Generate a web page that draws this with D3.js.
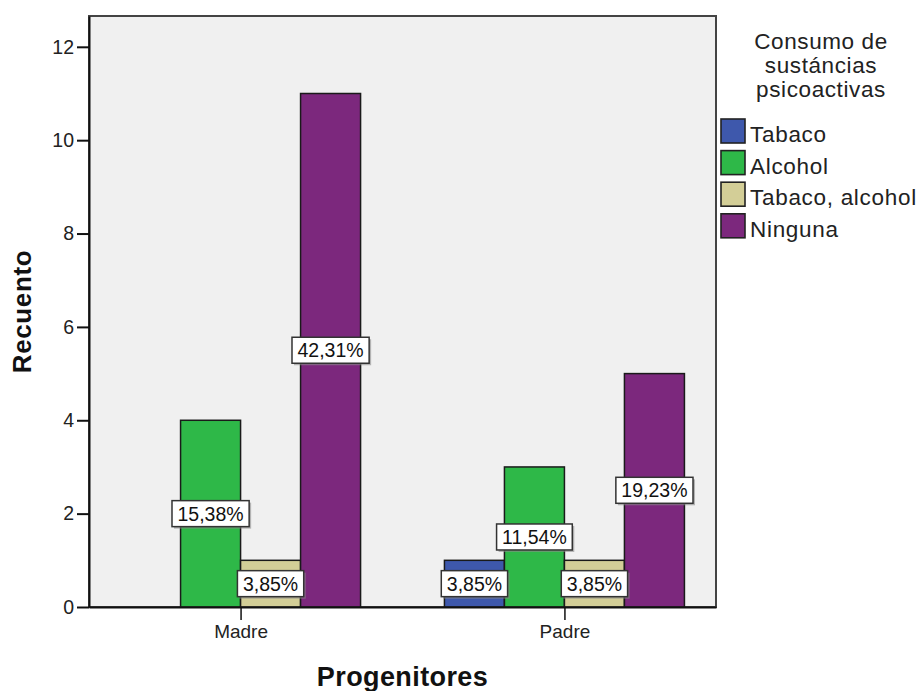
<!DOCTYPE html>
<html>
<head>
<meta charset="utf-8">
<script src="https://cdn.jsdelivr.net/npm/d3@7"></script>
<style>
  html, body { margin: 0; padding: 0; background: #ffffff; }
  svg { display: block; font-family: "Liberation Sans", Arial, sans-serif; }
</style>
</head>
<body>
<svg id="chart" width="922" height="691"></svg>
<script>
// ---- data ----
const categories = ["Madre", "Padre"];
const seriesNames = ["Tabaco", "Alcohol", "Tabaco, alcohol", "Ninguna"];
const madreValues = [0, 4, 1, 11];
const padreValues = [1, 3, 1, 5];
const totalCount = 26;
const yTicks = [0, 2, 4, 6, 8, 10, 12];
const seriesColors = ["#3e58ac", "#2eb848", "#d3ce97", "#7c287d"];
const legendTitle = ["Consumo de", "sustáncias", "psicoactivas"];
const xTitle = "Progenitores";
const yTitle = "Recuento";

const valuesByCategory = { "Madre": madreValues, "Padre": padreValues };

// ---- layout ----
const plot = { left: 89, right: 716, top: 16, bottom: 607 };
const yMax = 12.66;

const svg = d3.select("#chart");

const y = d3.scaleLinear().domain([0, yMax]).range([plot.bottom, plot.top]);
const x0 = d3.scalePoint().domain(categories).range([plot.left, plot.right]).padding(0.468);
const x1 = d3.scaleBand().domain(seriesNames).range([-120, 120]).padding(0);
const color = d3.scaleOrdinal().domain(seriesNames).range(seriesColors);

// plot background
svg.append("rect")
  .attr("x", plot.left).attr("y", plot.top)
  .attr("width", plot.right - plot.left).attr("height", plot.bottom - plot.top)
  .attr("fill", "#f0f0f0")
  .attr("stroke", "#444").attr("stroke-width", 2);

// data rows
const rows = [];
categories.forEach(c => {
  valuesByCategory[c].forEach((v, i) => rows.push({ cat: c, series: seriesNames[i], value: v }));
});
const barRows = rows.filter(d => d.value > 0);

// bars
svg.append("g").selectAll("rect").data(barRows).join("rect")
  .attr("x", d => x0(d.cat) + x1(d.series))
  .attr("y", d => y(d.value))
  .attr("width", x1.bandwidth())
  .attr("height", d => y(0) - y(d.value))
  .attr("fill", d => color(d.series))
  .attr("stroke", "#1a1a1a").attr("stroke-width", 1.5);

// y axis
const yAxis = d3.axisLeft(y).tickValues(yTicks).tickSize(12).tickSizeOuter(0).tickPadding(3).tickFormat(d3.format("d"));
const gy = svg.append("g").attr("transform", `translate(${plot.left},0)`).call(yAxis);
gy.select(".domain").attr("stroke", "#111").attr("stroke-width", 2);
gy.selectAll(".tick line").attr("stroke", "#111").attr("stroke-width", 2);
gy.selectAll(".tick text").attr("font-size", "19.5px").attr("fill", "#222")
  .attr("font-family", "'Liberation Sans', Arial, sans-serif");

// x axis
const xAxis = d3.axisBottom(x0).tickSize(13).tickSizeOuter(0).tickPadding(5);
const gx = svg.append("g").attr("transform", `translate(0,${plot.bottom})`).call(xAxis);
gx.select(".domain").attr("stroke", "#111").attr("stroke-width", 2);
gx.selectAll(".tick line").attr("stroke", "#111").attr("stroke-width", 1.5);
gx.selectAll(".tick text").attr("font-size", "19px").attr("fill", "#222")
  .attr("font-family", "'Liberation Sans', Arial, sans-serif");

// value labels
const fmt = d3.format(".2f");
const labG = svg.append("g");
barRows.forEach(d => {
  const txt = fmt(d.value / totalCount * 100).replace(".", ",") + "%";
  const cx = x0(d.cat) + x1(d.series) + x1.bandwidth() / 2;
  const cy = y(d.value / 2);
  const g = labG.append("g");
  const t = g.append("text").attr("x", cx).attr("y", cy + 7)
    .attr("text-anchor", "middle").attr("font-size", "19.5px").attr("fill", "#111").text(txt);
  const w = t.node().getComputedTextLength() + 11;
  const h = 26;
  g.insert("rect", "text").attr("x", cx - w / 2 + 2).attr("y", cy - h / 2 + 2)
    .attr("width", w).attr("height", h).attr("fill", "#8a8a8a").attr("opacity", 0.6);
  g.insert("rect", "text").attr("x", cx - w / 2).attr("y", cy - h / 2)
    .attr("width", w).attr("height", h).attr("fill", "#ffffff")
    .attr("stroke", "#333").attr("stroke-width", 1.5);
});

// axis titles
svg.append("text")
  .attr("transform", `translate(31,${(plot.top + plot.bottom) / 2}) rotate(-90)`)
  .attr("text-anchor", "middle").attr("font-size", "26px").attr("font-weight", "bold")
  .attr("letter-spacing", "0.6px").attr("fill", "#111").text(yTitle);
svg.append("text")
  .attr("x", (plot.left + plot.right) / 2).attr("y", 686)
  .attr("text-anchor", "middle").attr("font-size", "27px").attr("font-weight", "bold")
  .attr("letter-spacing", "0.4px").attr("fill", "#111").text(xTitle);

// legend
const lg = svg.append("g");
lg.selectAll("text.title").data(legendTitle).join("text").attr("class", "title")
  .attr("x", 821).attr("y", (d, i) => 49 + i * 23.8)
  .attr("text-anchor", "middle").attr("font-size", "22.5px").attr("letter-spacing", "0.6px")
  .attr("fill", "#222").text(d => d);
const items = lg.selectAll("g.item").data(seriesNames).join("g").attr("class", "item")
  .attr("transform", (d, i) => `translate(721,${119 + i * 31.6})`);
items.append("rect").attr("width", 24).attr("height", 24)
  .attr("fill", d => color(d)).attr("stroke", "#222").attr("stroke-width", 1.6);
items.append("text").attr("x", 29).attr("y", 23).attr("font-size", "22.5px")
  .attr("letter-spacing", "0.7px").attr("fill", "#222").text(d => d);
</script>
</body>
</html>
